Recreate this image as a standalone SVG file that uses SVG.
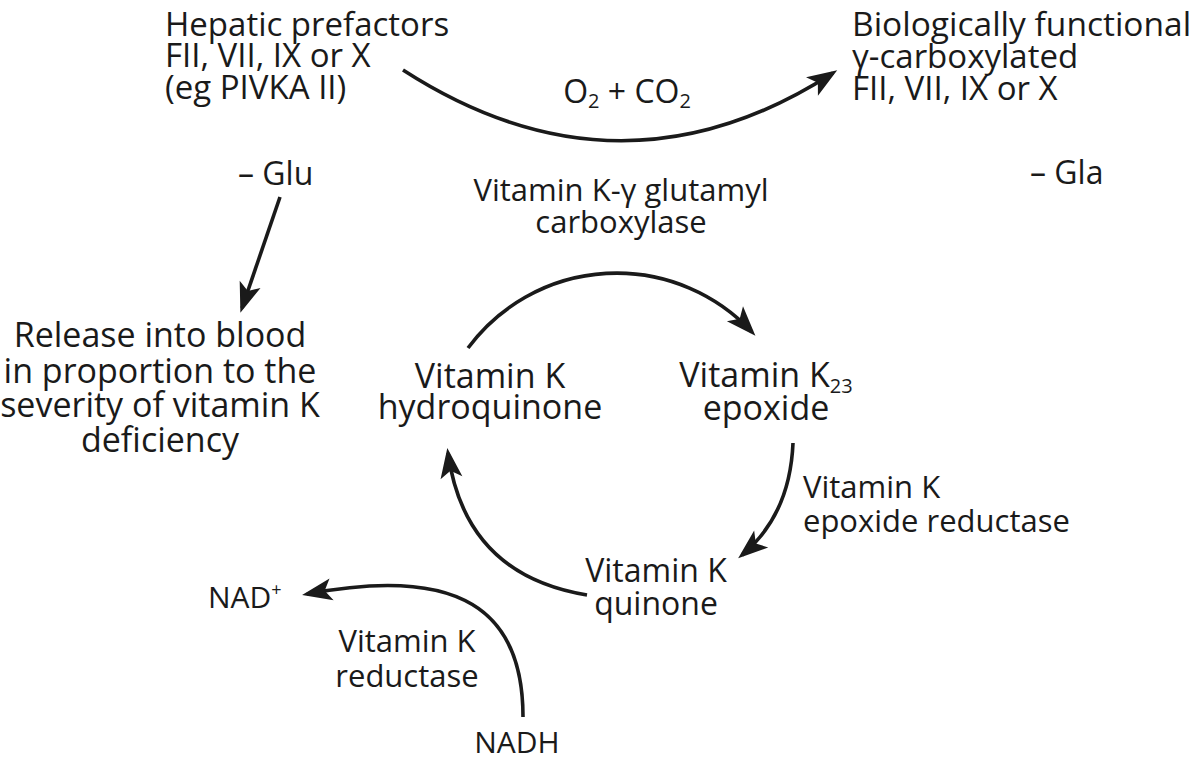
<svg xmlns="http://www.w3.org/2000/svg" width="1200" height="763" viewBox="0 0 1200 763">
<defs>
<style>
text{font-family:"Open Sans","Noto Sans","Liberation Sans",sans-serif;fill:#1a1a1a}
.sp{font-size:34px}
.en{font-size:31px}
.top{font-size:33px}
.c{text-anchor:middle}
.conn path{fill:none;stroke:#1a1a1a;stroke-width:3.6;stroke-linecap:butt}
</style>
<marker id="ah" markerUnits="userSpaceOnUse" markerWidth="40" markerHeight="30" viewBox="-30 -15 40 30" refX="0" refY="0" orient="auto" overflow="visible">
<path d="M5,0 L-25,-11 L-18,0 L-25,11 Z" fill="#1a1a1a"/>
</marker>
</defs>
<rect width="1200" height="763" fill="#ffffff"/>

<g id="hepatic-prefactors">
<text class="top" x="165" y="35.5">Hepatic prefactors</text>
<text class="top" x="165" y="67">FII, VII, IX or X</text>
<text class="top" x="165" y="98.5">(eg PIVKA II)</text>
</g>

<g id="functional-factors">
<text class="top" x="852" y="35.5" style="font-size:33.5px">Biologically functional</text>
<text class="top" x="852" y="68">γ-carboxylated</text>
<text class="top" x="852" y="100">FII, VII, IX or X</text>
</g>

<g id="o2-co2">
<text class="en c" x="627" y="103" style="font-size:32px">O<tspan font-size="20" dy="5">2</tspan><tspan dy="-5"> + CO</tspan><tspan font-size="20" dy="5">2</tspan></text>
</g>

<g id="glu">
<text x="238" y="185" style="font-size:32px">– Glu</text>
</g>

<g id="gla">
<text x="1030" y="184" style="font-size:32px">– Gla</text>
</g>

<g id="carboxylase">
<text class="en c" x="621" y="201">Vitamin K-γ glutamyl</text>
<text class="en c" x="621" y="233">carboxylase</text>
</g>

<g id="release">
<text class="sp c" x="160" y="347">Release into blood</text>
<text class="sp c" x="160" y="383">in proportion to the</text>
<text class="sp c" x="160" y="417">severity of vitamin K</text>
<text class="sp c" x="160" y="452">deficiency</text>
</g>

<g id="hydroquinone">
<text class="sp c" x="490" y="388">Vitamin K</text>
<text class="sp c" x="490" y="419">hydroquinone</text>
</g>

<g id="epoxide">
<text class="sp c" x="766" y="387">Vitamin K<tspan font-size="20" dy="6">23</tspan></text>
<text class="sp c" x="766" y="420">epoxide</text>
</g>

<g id="epoxide-reductase">
<text class="en" x="803" y="498">Vitamin K</text>
<text class="en" x="803" y="532">epoxide reductase</text>
</g>

<g id="quinone">
<text class="c" x="656" y="582" style="font-size:32px">Vitamin K</text>
<text class="c" x="656" y="615" style="font-size:32px">quinone</text>
</g>

<g id="nad">
<text x="208" y="608" style="font-size:30px">NAD<tspan font-size="18" dy="-12">+</tspan></text>
</g>

<g id="vk-reductase">
<text class="en c" x="407" y="652">Vitamin K</text>
<text class="en c" x="407" y="687">reductase</text>
</g>

<g id="nadh">
<text class="c" x="517" y="753" style="font-size:30px">NADH</text>
</g>

<g class="conn" id="connectors">
<path d="M403,70 Q620,210 833,73" marker-end="url(#ah)"/>
<path d="M280,197 L242,308" marker-end="url(#ah)"/>
<path d="M468,348 A185,185 0 0 1 752,332" marker-end="url(#ah)"/>
<path d="M793,443 Q790,515 742,555" marker-end="url(#ah)"/>
<path d="M587,595 Q465,575 448,453" marker-end="url(#ah)"/>
<path d="M523,717 C523,610 460,565 307,594" marker-end="url(#ah)"/>
</g>
</svg>
